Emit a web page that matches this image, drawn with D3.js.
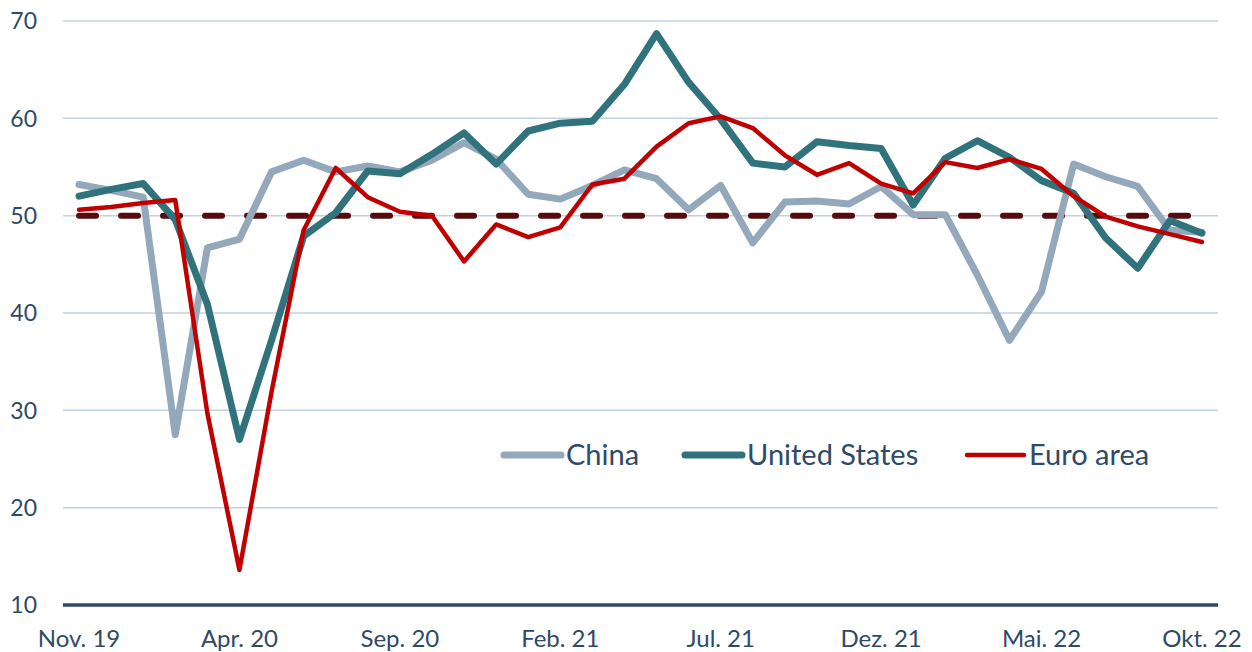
<!DOCTYPE html>
<html>
<head>
<meta charset="utf-8">
<script src="https://cdn.jsdelivr.net/npm/d3@7"></script>
<style>
  body { margin: 0; background: #fff; }
  svg { display: block; font-family: Lato, "Open Sans", sans-serif; }
</style>
</head>
<body>
<div id="chart"></div>
<script>
// Monthly PMI values, Nov. 19 .. Okt. 22
const months = [
  "Nov. 19","Dez. 19","Jan. 20","Feb. 20","Mär. 20","Apr. 20","Mai. 20","Jun. 20","Jul. 20","Aug. 20","Sep. 20","Okt. 20",
  "Nov. 20","Dez. 20","Jan. 21","Feb. 21","Mär. 21","Apr. 21","Mai. 21","Jun. 21","Jul. 21","Aug. 21","Sep. 21","Okt. 21",
  "Nov. 21","Dez. 21","Jan. 22","Feb. 22","Mär. 22","Apr. 22","Mai. 22","Jun. 22","Jul. 22","Aug. 22","Sep. 22","Okt. 22"
];
const china = [53.2,52.6,51.9,27.5,46.7,47.6,54.5,55.7,54.5,55.1,54.5,55.7,57.5,55.8,52.2,51.7,53.1,54.7,53.8,50.6,53.1,47.2,51.4,51.5,51.2,53.0,50.1,50.1,43.9,37.2,42.2,55.3,54.0,53.0,48.5,48.3];
const unitedStates = [52.0,52.7,53.3,49.6,40.9,27.0,37.2,47.9,50.3,54.6,54.3,56.3,58.5,55.3,58.7,59.5,59.7,63.5,68.7,63.7,59.9,55.4,55.0,57.6,57.2,56.9,51.1,55.9,57.7,56.0,53.6,52.3,47.7,44.6,49.5,48.2];
const euroArea = [50.6,50.9,51.3,51.6,29.7,13.6,31.9,48.5,54.9,51.9,50.4,50.0,45.3,49.1,47.8,48.8,53.2,53.8,57.1,59.5,60.2,59.0,56.2,54.2,55.4,53.3,52.3,55.5,54.9,55.8,54.8,52.0,49.9,48.9,48.1,47.3];
const threshold = months.map(() => 50);
const yTicks = [10, 20, 30, 40, 50, 60, 70];
const xTickLabels = ["Nov. 19","Apr. 20","Sep. 20","Feb. 21","Jul. 21","Dez. 21","Mai. 22","Okt. 22"];

const series = [
  { name: "China", values: china, color: "#94a8bc", width: 7 },
  { name: "United States", values: unitedStates, color: "#31737c", width: 7 },
  { name: "Euro area", values: euroArea, color: "#c00000", width: 4.5 }
];

const width = 1252, height = 652;
const margin = { top: 21, right: 34, bottom: 47, left: 63 };
const textColor = "#2e4a66";

const svg = d3.select("#chart").append("svg")
  .attr("width", width)
  .attr("height", height);

const x = d3.scalePoint()
  .domain(months)
  .range([margin.left, width - margin.right])
  .padding(0.5);

const y = d3.scaleLinear()
  .domain([10, 70])
  .range([height - margin.bottom, margin.top]);

// gridlines
svg.append("g")
  .selectAll("line")
  .data(yTicks.filter(d => d > 10))
  .join("line")
  .attr("x1", margin.left)
  .attr("x2", width - margin.right)
  .attr("y1", d => y(d))
  .attr("y2", d => y(d))
  .attr("stroke", "#c3d1de")
  .attr("stroke-width", 1.5);

// y labels
svg.append("g")
  .selectAll("text")
  .data(yTicks)
  .join("text")
  .attr("x", 37)
  .attr("y", d => y(d))
  .attr("dy", "0.36em")
  .attr("text-anchor", "end")
  .attr("fill", textColor)
  .style("font-size", "23px")
  .text(d => d);

// x axis baseline
svg.append("line")
  .attr("x1", margin.left)
  .attr("x2", width - margin.right)
  .attr("y1", y(10))
  .attr("y2", y(10))
  .attr("stroke", textColor)
  .attr("stroke-width", 3.5);

// x labels
svg.append("g")
  .selectAll("text")
  .data(xTickLabels)
  .join("text")
  .attr("x", d => x(d))
  .attr("y", 638)
  .attr("dy", "0.36em")
  .attr("text-anchor", "middle")
  .attr("fill", textColor)
  .style("font-size", "24px")
  .text(d => d);

const line = d3.line()
  .x((d, i) => x(months[i]))
  .y(d => y(d));

// 50 threshold, dashed
svg.append("path")
  .datum(threshold)
  .attr("d", line)
  .attr("fill", "none")
  .attr("stroke", "#560c0c")
  .attr("stroke-width", 6)
  .attr("stroke-linecap", "round")
  .attr("stroke-dasharray", "17 25");

svg.append("g")
  .selectAll("path")
  .data(series)
  .join("path")
  .attr("d", d => line(d.values))
  .attr("fill", "none")
  .attr("stroke", d => d.color)
  .attr("stroke-width", d => d.width)
  .attr("stroke-linejoin", "round")
  .attr("stroke-linecap", "round");

// legend
const legendItems = [
  { s: series[0], x: 504 },
  { s: series[1], x: 685 },
  { s: series[2], x: 967 }
];
const legend = svg.append("g");
legendItems.forEach(item => {
  const g = legend.append("g");
  g.append("line")
    .attr("x1", item.x).attr("x2", item.x + 57)
    .attr("y1", 455).attr("y2", 455)
    .attr("stroke", item.s.color)
    .attr("stroke-width", item.s.width)
    .attr("stroke-linecap", "round");
  g.append("text")
    .attr("x", item.x + 62)
    .attr("y", 455)
    .attr("dy", "0.36em")
    .attr("fill", textColor)
    .style("font-size", "29px")
    .text(item.s.name);
});
</script>
</body>
</html>
